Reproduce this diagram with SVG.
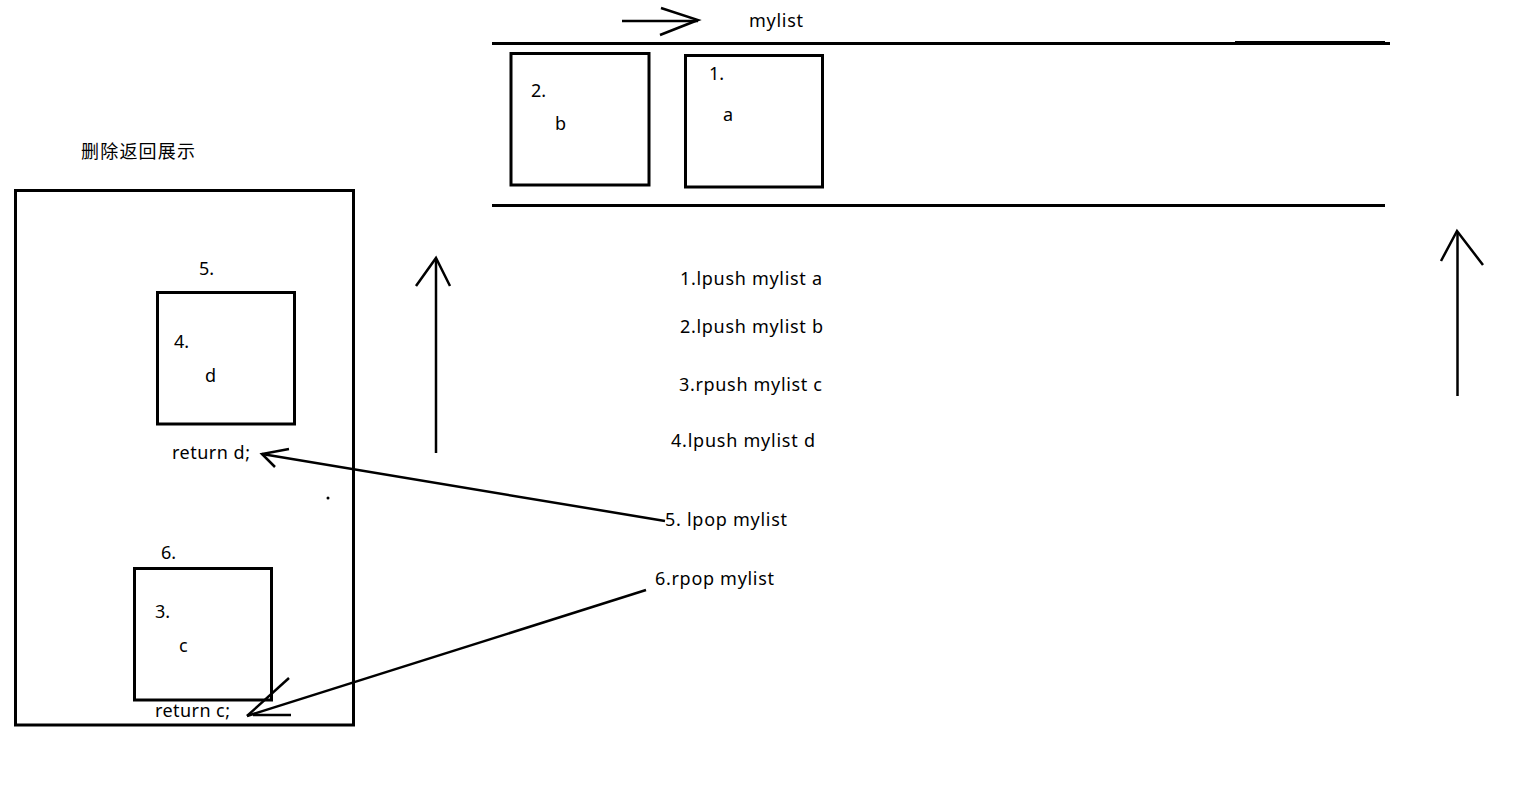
<svg xmlns="http://www.w3.org/2000/svg" width="1520" height="794" viewBox="0 0 1520 794">
<style>
text{font-family:"Noto Sans","Noto Sans CJK SC",sans-serif;font-size:18px;fill:#000}
.box{fill:none;stroke:#000;stroke-width:3}
.ln{fill:none;stroke:#000;stroke-width:3;stroke-linecap:butt}
.ar{fill:none;stroke:#000;stroke-width:2.5;stroke-linecap:butt;stroke-linejoin:miter}
</style>
<rect width="1520" height="794" fill="#fff"/>
<g id="list">
<line class="ln" x1="492" y1="43.5" x2="1390" y2="43.5"/>
<line class="ln" x1="1235" y1="42.5" x2="1385" y2="42.5"/>
<line class="ln" x1="492" y1="205.5" x2="1385" y2="205.5"/>
<text x="749" y="27" textLength="54">mylist</text>
</g>
<g id="node-b">
<rect class="box" x="511" y="53.5" width="138" height="131.5"/>
<text x="531" y="97">2.</text>
<text x="555" y="130">b</text>
</g>
<g id="node-a">
<rect class="box" x="685.5" y="55.5" width="137" height="131.5"/>
<text x="709" y="80">1.</text>
<text x="723" y="121">a</text>
</g>
<g id="title"><text x="81" y="158" textLength="114">删除返回展示</text></g>
<g id="result">
<rect class="box" x="15.5" y="190.5" width="338" height="534.5"/>
<circle cx="328" cy="498" r="1.5" fill="#000"/>
</g>
<g id="node-d">
<rect class="box" x="157.5" y="292.5" width="137" height="131.5"/>
<text x="199" y="275">5.</text>
<text x="174" y="348">4.</text>
<text x="205" y="382">d</text>
<text x="172" y="459" textLength="78">return d;</text>
</g>
<g id="node-c">
<rect class="box" x="134.5" y="568.5" width="137" height="131.5"/>
<text x="161" y="559">6.</text>
<text x="155" y="618">3.</text>
<text x="179" y="652">c</text>
<text x="155" y="717" textLength="75">return c;</text>
</g>
<g id="commands">
<text x="680" y="285" textLength="142">1.lpush mylist a</text>
<text x="680" y="333" textLength="143">2.lpush mylist b</text>
<text x="679" y="391" textLength="143">3.rpush mylist c</text>
<text x="671" y="447" textLength="144">4.lpush mylist d</text>
<text x="665" y="526" textLength="122">5. lpop mylist</text>
<text x="655" y="585" textLength="119">6.rpop mylist</text>
</g>
<g id="connectors">
<line class="ar" x1="622" y1="21" x2="698" y2="21"/>
<polyline class="ar" points="661,8 698,20 660,35"/>
<line class="ar" x1="436" y1="453" x2="436" y2="259"/>
<polyline class="ar" points="416,286 436,258 450,286"/>
<line class="ar" x1="1457.5" y1="396" x2="1457.5" y2="232"/>
<polyline class="ar" points="1441,261 1457,231 1483,265"/>
<line class="ar" x1="665" y1="521" x2="262" y2="454"/>
<polyline class="ar" points="289,449 262,454 275,467"/>
<line class="ar" x1="646" y1="590" x2="247" y2="716"/>
<line class="ar" x1="289" y1="678" x2="247" y2="716"/>
<line class="ar" x1="253" y1="715" x2="291" y2="715"/>
</g>
</svg>
